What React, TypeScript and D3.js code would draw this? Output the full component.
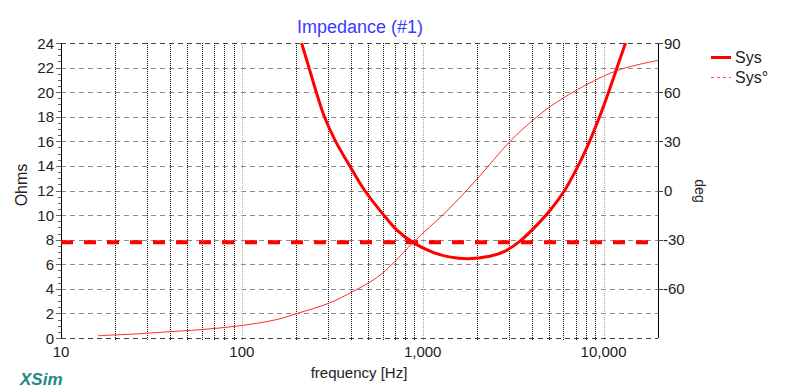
import React from 'react';
import * as d3 from 'd3';

// impedance magnitude (Sys)
const impFreq = [214, 235, 258, 286, 330, 395, 478, 609, 718, 881, 1140, 1400, 1778, 2344, 2838, 3436, 4157, 5040, 6087, 7232, 8370, 9504, 10657, 11875, 13228];
const impOhms = [24, 22, 20, 18, 16, 14, 12, 10, 8.8, 7.78, 6.97, 6.6, 6.45, 6.65, 7.05, 7.86, 9.0, 10.35, 12, 14, 16, 18, 20, 22, 24];

// phase (Sys°) in degrees
const phaseFreq = [16, 27, 38, 59, 98, 155, 200, 306, 412, 555, 700, 884, 1352, 1982, 3090, 4425, 5255, 8020, 12250, 20000];
const phaseDeg = [-88.6, -87.4, -86.3, -84.9, -82.5, -78.8, -75.2, -68.6, -61.6, -53.3, -43.5, -31.7, -12.8, 6.6, 30.8, 46.3, 52.4, 64.5, 73.7, 79.4];

// thick dashed reference level
const refOhms = 7.8;

const ohmTicks = [0, 2, 4, 6, 8, 10, 12, 14, 16, 18, 20, 22, 24];
const degTicks = [90, 60, 30, 0, -30, -60];
const freqLabels = [10, 100, 1000, 10000];
const freqGrid = [20, 30, 40, 50, 60, 70, 80, 90, 100, 200, 300, 400, 500, 600, 700, 800, 900, 1000, 2000, 3000, 4000, 5000, 6000, 7000, 8000, 9000, 10000];

const W = 786;
const H = 389;
const m = { left: 61, top: 43, right: 128, bottom: 51 };
const FONT = 'Arial, "Liberation Sans", sans-serif';

export default function App() {
  const x = d3.scaleLog().domain([10, 20000]).range([m.left, W - m.right]);
  const y = d3.scaleLinear().domain([0, 24]).range([H - m.bottom, m.top]);
  const yDeg = d3.scaleLinear().domain([-90, 90]).range([H - m.bottom, m.top]);

  const x0 = m.left, x1 = W - m.right, y0 = H - m.bottom, y1 = m.top;

  const impLine = d3.line<number>()
    .x((d, i) => x(impFreq[i]))
    .y(d => y(d))
    .curve(d3.curveCatmullRom.alpha(0.5));
  const phaseLine = d3.line<number>()
    .x((d, i) => x(phaseFreq[i]))
    .y(d => yDeg(d))
    .curve(d3.curveCatmullRom.alpha(0.5));

  const minor = d3.range(0, 24.01, 0.5);
  const fmt = d3.format(',');

  return (
    <svg width={W} height={H} style={{ position: 'absolute', left: 0, top: 0, background: '#fff' }} fontFamily={FONT}>
      <defs>
        <clipPath id="plot">
          <rect x={x0} y={y1} width={x1 - x0} height={y0 - y1} />
        </clipPath>
      </defs>
      <rect width={W} height={H} fill="#fff" />

      {/* title */}
      <text x={360} y={33} textAnchor="middle" fontSize={18} fill="#3a3aff">Impedance (#1)</text>

      {/* horizontal grid */}
      {ohmTicks.map(t => (
        <line key={'h' + t} x1={x0} x2={x1} y1={Math.round(y(t)) + 0.5} y2={Math.round(y(t)) + 0.5}
          stroke={t === 0 || t === 24 ? '#444' : '#8c8c8c'} strokeWidth={1} strokeDasharray="5,4" />
      ))}
      {/* vertical grid */}
      {freqGrid.map(f => (
        <line key={'v' + f} x1={Math.round(x(f)) + 0.5} x2={Math.round(x(f)) + 0.5} y1={y1} y2={y0 + 3}
          stroke={[100, 1000, 10000].includes(f) ? '#aaa' : '#111'} strokeWidth={1} strokeDasharray="1,1" />
      ))}

      {/* axes */}
      <line x1={x0 + 0.5} x2={x0 + 0.5} y1={y1} y2={y0} stroke="#000" />
      <line x1={x1 + 0.5} x2={x1 + 0.5} y1={y1} y2={y0} stroke="#000" />
      {minor.map(t => (
        <line key={'mt' + t} x1={x0 - (t % 2 === 0 ? 5 : 3)} x2={x0} y1={Math.round(y(t)) + 0.5} y2={Math.round(y(t)) + 0.5} stroke="#666" />
      ))}
      {ohmTicks.map(t => (
        <text key={'yl' + t} x={54} y={y(t) + 5.5} textAnchor="end" fontSize={15} fill="#222">{t}</text>
      ))}
      {degTicks.map(t => (
        <g key={'dl' + t}>
          <line x1={x1} x2={x1 + 5} y1={Math.round(yDeg(t)) + 0.5} y2={Math.round(yDeg(t)) + 0.5} stroke="#444" />
          <text x={t < 0 ? 663 : 664} y={yDeg(t) + 5.5} fontSize={15} fill="#222">{t}</text>
        </g>
      ))}
      {freqLabels.map(f => (
        <text key={'xl' + f} x={x(f)} y={357} textAnchor="middle" fontSize={15} fill="#222">{fmt(f)}</text>
      ))}

      {/* axis titles */}
      <text x={359} y={378} textAnchor="middle" fontSize={15} fill="#222">frequency [Hz]</text>
      <text transform="translate(27,185) rotate(-90)" textAnchor="middle" fontSize={16} fill="#222">Ohms</text>
      <text transform="translate(695,191) rotate(90)" textAnchor="middle" fontSize={14} fill="#222">deg</text>
      <text x={20} y={385} fontSize={17} fontWeight="bold" fontStyle="italic" fill="#1b8a8a">XSim</text>

      {/* data */}
      <g clipPath="url(#plot)">
        <line x1={x0} x2={x1} y1={y(refOhms)} y2={y(refOhms)} stroke="#ff0000" strokeWidth={4} strokeDasharray="12,11" />
        <path d={phaseLine(phaseDeg) || ''} fill="none" stroke="#ff2a2a" strokeWidth={1} />
        <path d={impLine(impOhms) || ''} fill="none" stroke="#ff0000" strokeWidth={3} />
      </g>

      {/* legend */}
      <line x1={711} x2={731} y1={57.5} y2={57.5} stroke="#ff0000" strokeWidth={3} />
      <text x={735} y={63} fontSize={16} fill="#222">Sys</text>
      <line x1={711} x2={731} y1={77.5} y2={77.5} stroke="#ff5050" strokeWidth={1} strokeDasharray="3,3" />
      <text x={735} y={83} fontSize={16} fill="#222">Sys°</text>
    </svg>
  );
}
